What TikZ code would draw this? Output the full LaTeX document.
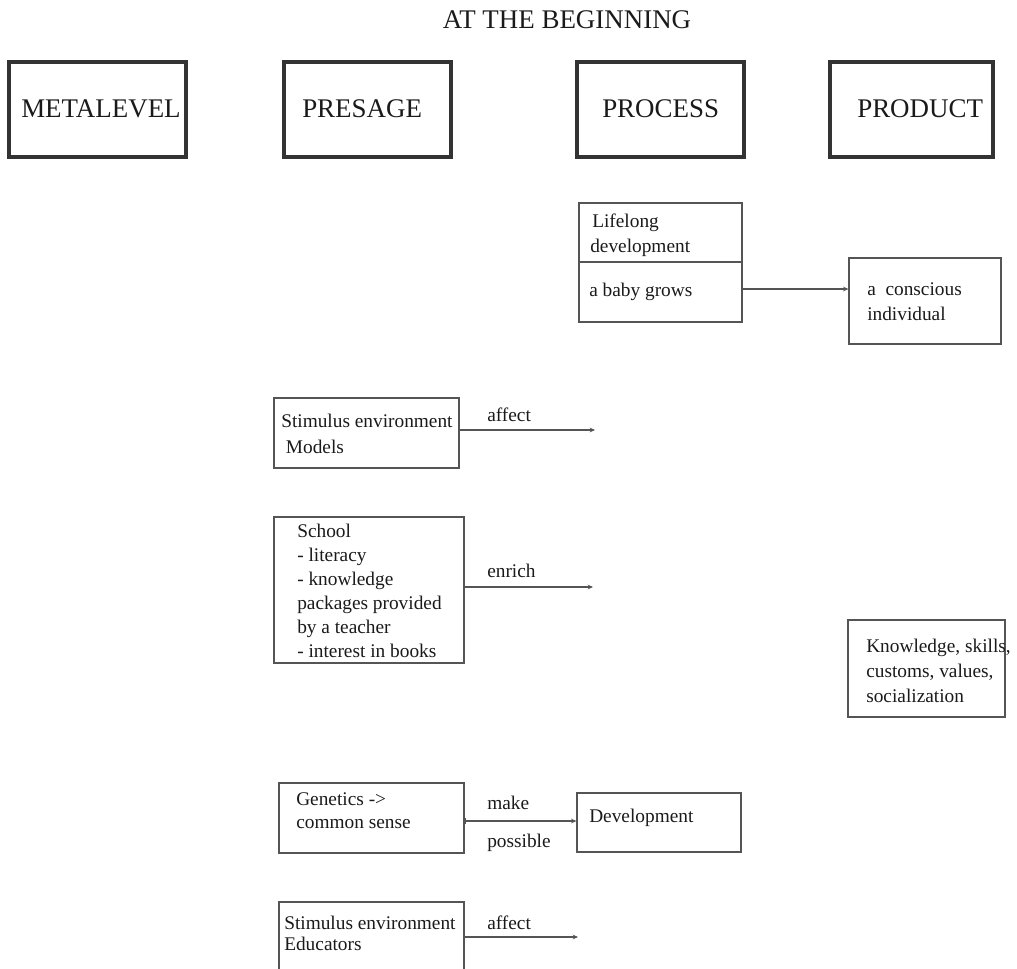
\documentclass[tikz,border=0pt]{standalone}
\usepackage{fontspec}
\setmainfont{Liberation Serif}
\usetikzlibrary{fit,arrows.meta}
\definecolor{hdr}{HTML}{333333}
\definecolor{ln}{HTML}{555555}
\definecolor{txtc}{HTML}{1A1A1A}
\begin{document}
\begin{tikzpicture}[x=0.75pt,y=-0.75pt,
  hdrbox/.style={draw=hdr, line width=3pt, inner sep=0pt},
  box/.style={draw=ln, line width=0.9pt, inner sep=0pt},
  hdrtxt/.style={anchor=base west, inner sep=0pt, text=txtc, font=\fontsize{20.2}{24}\selectfont},
  txt/.style={anchor=base west, inner sep=0pt, align=left, text=txtc, font=\fontsize{14.5}{18}\selectfont},
  arr/.style={draw=ln, line width=0.9pt, -{Stealth[length=4pt,width=3.5pt]}}]
\useasboundingbox (0,0) rectangle (1017,968);
\clip (0,0) rectangle (1017,968);

% title
\node[anchor=base, inner sep=0pt, text=txtc, font=\fontsize{20.2}{24}\selectfont] (title) at (567,28) {AT THE BEGINNING};

% header boxes
\node[hdrbox, fit={(9,62) (186,157)}] (meta) {};
\node[hdrbox, fit={(284,62) (451,157)}] (presage) {};
\node[hdrbox, fit={(577,62) (744,157)}] (process) {};
\node[hdrbox, fit={(830,62) (993,157)}] (product) {};
\node[hdrtxt] (metat) at (21,117) {METALEVEL};
\node[hdrtxt] (presaget) at (302,117) {PRESAGE};
\node[hdrtxt] (processt) at (602,117) {PROCESS};
\node[hdrtxt] (productt) at (857,117) {PRODUCT};

% lifelong development (multi-line nodes: base = last line's baseline)
\node[box, fit={(579,203) (742,322)}] (life) {};
\coordinate (divl) at (579,262);
\coordinate (divr) at (742,262);
\draw[draw=ln, line width=0.9pt] (divl) -- (divr);
\node[txt, font=\fontsize{14.5}{18.75}\selectfont] (lifet) at (590,252.5) {\hspace*{1.5pt}Lifelong\\development};
\node[txt] (baby) at (589,296) {a baby grows};

\node[box, fit={(849,258) (1001,344)}] (consc) {};
\node[txt, font=\fontsize{14.5}{18.75}\selectfont] (consct) at (867,320.5) {a\ \ conscious\\individual};
\coordinate (lifearr) at (0,289);
\draw[arr] (life.east |- lifearr) -- (consc.west |- lifearr);

% stimulus models
\node[box, fit={(274,398) (459,468)}] (stim1) {};
\node[txt, font=\fontsize{14.5}{19.5}\selectfont] (stim1t) at (281,453) {Stimulus environment\\\hspace*{3.5pt}Models};
\coordinate (e1) at (595,430);
\draw[arr] (e1 -| stim1.east) -- (e1);
\node[txt] (aff1) at (487,421) {affect};

% school
\node[box, fit={(274,517) (464,663)}] (school) {};
\node[txt] (schoolt) at (297,657) {School\\- literacy\\- knowledge\\packages provided\\by a teacher\\- interest in books};
\coordinate (e2) at (593,587);
\draw[arr] (e2 -| school.east) -- (e2);
\node[txt] (enr) at (487,577) {enrich};

% knowledge
\node[box, fit={(848,620) (1005,717)}] (know) {};
\node[txt, font=\fontsize{14.5}{18.75}\selectfont] (knowt) at (866,702) {Knowledge, skills,\\customs, values,\\socialization};

% genetics
\node[box, fit={(279,783) (464,853)}] (gen) {};
\node[txt, font=\fontsize{14.5}{17.25}\selectfont] (gent) at (296,828) {Genetics ->\\common sense};
\node[box, fit={(577,793) (741,852)}] (dev) {};
\node[txt] (devt) at (589,822) {Development};
\coordinate (e3) at (0,821);
\draw[arr, {Bar[width=5pt]}-{Stealth[length=4pt,width=3.5pt]}] (gen.east |- e3) -- (dev.west |- e3);
\node[txt] (make) at (487,809) {make};
\node[txt] (poss) at (487,847) {possible};

% educators
\node[box, fit={(279,902) (464,1000)}] (edu) {};
\node[txt, font=\fontsize{14.5}{15.75}\selectfont] (edut) at (284,950) {Stimulus environment\\Educators};
\coordinate (e4) at (578,937);
\draw[arr] (e4 -| edu.east) -- (e4);
\node[txt] (aff2) at (487,929) {affect};
\end{tikzpicture}
\end{document}
